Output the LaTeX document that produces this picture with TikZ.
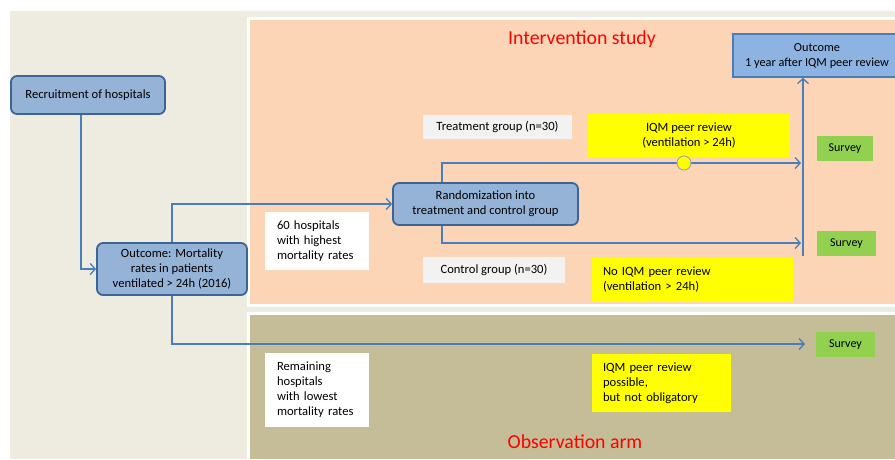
\documentclass[tikz,border=0pt]{standalone}
\usepackage{fontspec}
\setmainfont{Carlito}
\usetikzlibrary{arrows.meta}
\definecolor{bgc}{HTML}{EEECE1}
\definecolor{peach}{HTML}{FBD5B5}
\definecolor{olivec}{HTML}{C4BD97}
\definecolor{bfill}{HTML}{95B3D7}
\definecolor{bdraw}{HTML}{3C6494}
\definecolor{conn}{HTML}{4A7EBB}
\definecolor{ofill}{HTML}{8DB3E2}
\definecolor{ydraw}{HTML}{FFFF00}
\definecolor{grn}{HTML}{92D050}
\definecolor{lgray}{HTML}{F2F2F2}
\definecolor{redt}{HTML}{FF0000}
\begin{document}
\begin{tikzpicture}[x=1pt,y=-1pt,
  every node/.style={font=\fontsize{12.6}{15}\selectfont, inner sep=0pt},
  bluebox/.style={draw=bdraw, fill=bfill, line width=1.8pt, rounded corners=6pt, align=center},
  whitebox/.style={fill=white, align=left, text width=#1},
  graybox/.style={fill=lgray, align=center},
  yelbox/.style={fill=ydraw, align=center},
  yelleft/.style={fill=ydraw, align=left, text width=#1},
  survbox/.style={fill=grn, font=\fontsize{12}{14}\selectfont},
  conline/.style={draw=conn, line width=1.5pt},
  arr/.style={conline, -{Straight Barb[length=5pt,width=11pt,line width=1.3pt]}},
  titletext/.style={text=redt, font=\fontsize{19.8}{22}\selectfont}
]
\useasboundingbox (0,0) rectangle (895,459);
\clip (0,0) rectangle (895,459);
\fill[white] (0,0) rectangle (895,459);
\fill[bgc] (10,11) rectangle (895,459);
\fill[white] (247,17) rectangle (895,307);
\fill[peach] (250,20) rectangle (895,304);
\fill[white] (247,312) rectangle (895,459);
\fill[olivec] (250,315) rectangle (895,459);

\node[titletext] (t1) at (582,39) {Intervention study};
\node[titletext] (t2) at (575,442) {Observation arm};

\node[bluebox, minimum width=154pt, minimum height=38pt] (rec) at (88,95) {Recruitment of hospitals};
\node[bluebox, minimum width=150pt, minimum height=52pt] (mort) at (172,269) {Outcome: Mortality\\rates in patients\\ventilated > 24h (2016)};
\node[whitebox=80pt, minimum width=104pt, minimum height=58pt] (h60) at (317,241) {60 hospitals\\with highest\\mortality rates};
\node[bluebox, minimum width=185pt, minimum height=42pt] (rand) at (485.5,204) {Randomization into\\treatment and control group};
\node[graybox, minimum width=149pt, minimum height=24pt] (treat) at (497.5,127) {Treatment group (n=30)};
\node[yelbox, minimum width=202pt, minimum height=43pt] (iqm1) at (689,135.5) {IQM peer review\\(ventilation > 24h)};
\node[survbox, minimum width=56pt, minimum height=25pt] (s1) at (845,148.5) {Survey};
\node[survbox, minimum width=59pt, minimum height=25pt] (s2) at (846.5,243.5) {Survey};
\node[graybox, minimum width=142pt, minimum height=26pt] (ctrl) at (494,270) {Control group (n=30)};
\node[yelleft=179pt, minimum width=201pt, minimum height=44pt] (iqm2) at (692.5,280) {No IQM peer review\\(ventilation > 24h)};
\node[draw=conn, fill=ofill, line width=1.5pt, align=center, minimum width=168pt, minimum height=43pt, font=\fontsize{12.3}{15}\selectfont] (outc) at (817,55.5) {Outcome\\1 year after IQM peer review};
\node[whitebox=80pt, minimum width=104pt, minimum height=74pt] (rem) at (317,390) {Remaining\\hospitals\\with lowest\\mortality rates};
\node[yelleft=117pt, minimum width=139pt, minimum height=58pt] (iqm3) at (661.5,383) {IQM peer review\\possible,\\but not obligatory};
\node[survbox, minimum width=59pt, minimum height=25pt] (s3) at (845.5,344.5) {Survey};

\coordinate (e1) at (801,163);
\coordinate (e2) at (801,243);
\coordinate (e3) at (805,344);
\coordinate (vb) at (803,256);

\draw[arr] ([xshift=-7pt]rec.south) |- (mort.west);
\draw[arr] (mort.north) |- (rand.west);
\draw[arr] (mort.south) |- (e3);
\draw[arr] ([xshift=-43.5pt]rand.north) |- (e1);
\draw[arr] ([xshift=-43.5pt]rand.south) |- (e2);
\draw[arr] (vb) -- (vb |- outc.south);
\node[circle, fill=ydraw, draw=gray!70, line width=1pt, minimum size=14pt] (dot) at (684,163) {};
\end{tikzpicture}
\end{document}
